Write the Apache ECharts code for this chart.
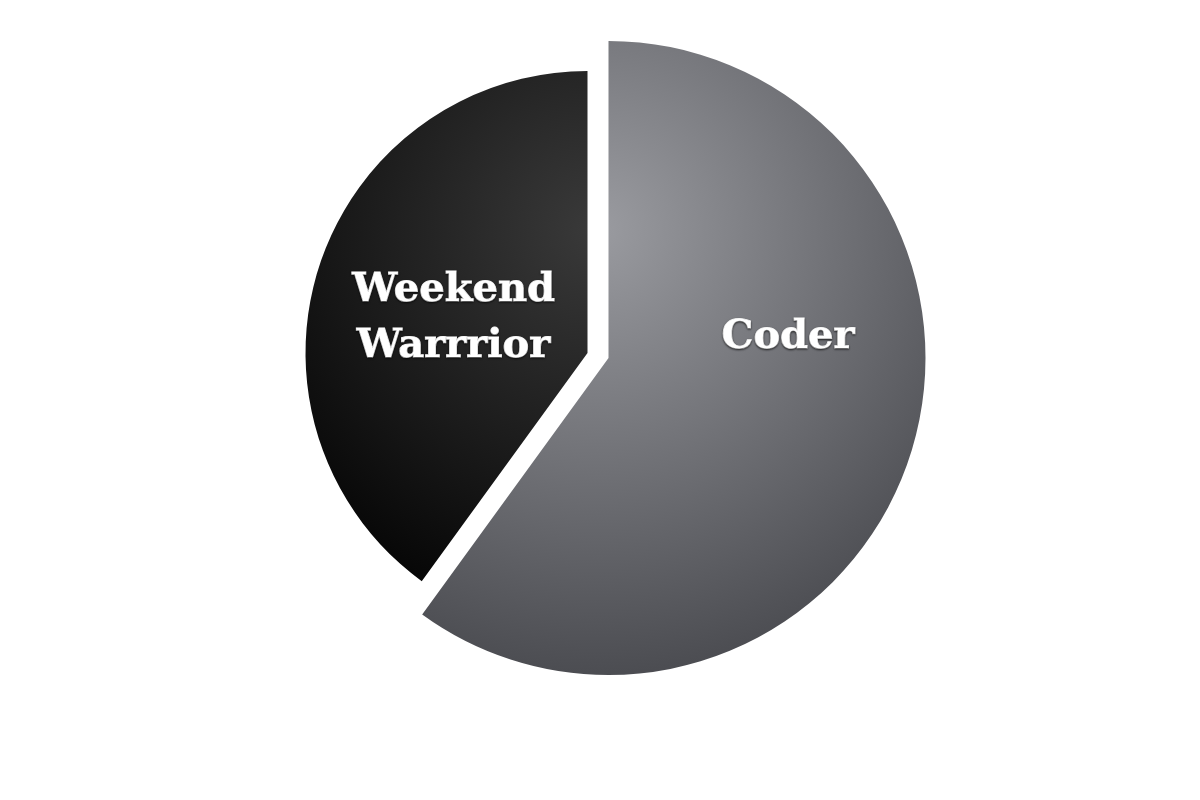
<!DOCTYPE html>
<html>
<head>
<meta charset="utf-8">
<script src="https://cdn.jsdelivr.net/npm/echarts@6/dist/echarts.min.js"></script>
<style>
  html, body { margin: 0; padding: 0; background: #ffffff; }
  #chart { width: 1200px; height: 800px; }
</style>
</head>
<body>
<div id="chart"></div>
<script>
// ---- data ----
const categories = ['Coder', 'Weekend Warrrior'];
const values = [60, 40];

// ---- styling (not data) ----
const sliceColors = [
  ['#9a9ba0', '#4c4d52'],   // Coder: light centre -> dark edge
  ['#3a3a3a', '#000000']    // Weekend Warrrior
];
const sliceCenters = [[608.5, 358], [587.5, 353]];
const sliceRadii = [317, 282];
const labelShift = [[26, -70], [3, 10]];
const gradCenter = [598, 229];
const gradRadius = 444;

function gradient(i) {
  return {
    type: 'radial',
    x: gradCenter[0], y: gradCenter[1], r: gradRadius,
    global: true,
    colorStops: [
      { offset: 0, color: sliceColors[i][0] },
      { offset: 1, color: sliceColors[i][1] }
    ]
  };
}

function makeSeries(k) {
  return {
    type: 'pie',
    center: sliceCenters[k],
    radius: [0, sliceRadii[k]],
    startAngle: 90,
    clockwise: true,
    silent: true,
    animation: false,
    avoidLabelOverlap: false,
    emphasis: { disabled: true },
    labelLayout: { dx: labelShift[k][0], dy: labelShift[k][1] },
    label: {
      show: true,
      position: 'inside',
      formatter: p => p.name.replace(' ', '\n'),
      color: '#ffffff',
      fontFamily: '"DejaVu Serif", serif',
      fontWeight: 'bold',
      fontSize: 40,
      lineHeight: 56,
      align: 'center',
      textBorderColor: '#ffffff',
      textBorderWidth: 1,
      textShadowColor: 'rgba(0,0,0,0.6)',
      textShadowBlur: 2,
      textShadowOffsetX: 0,
      textShadowOffsetY: 1
    },
    labelLine: { show: false },
    data: categories.map((name, i) => ({
      name: name,
      value: values[i],
      itemStyle: i === k
        ? { color: gradient(i), borderWidth: 0 }
        : { color: 'rgba(0,0,0,0)', borderWidth: 0 },
      label: { show: i === k }
    }))
  };
}

const chart = echarts.init(document.getElementById('chart'), null, { renderer: 'canvas' });
chart.setOption({
  backgroundColor: '#ffffff',
  animation: false,
  series: [makeSeries(0), makeSeries(1)]
});
</script>
</body>
</html>
